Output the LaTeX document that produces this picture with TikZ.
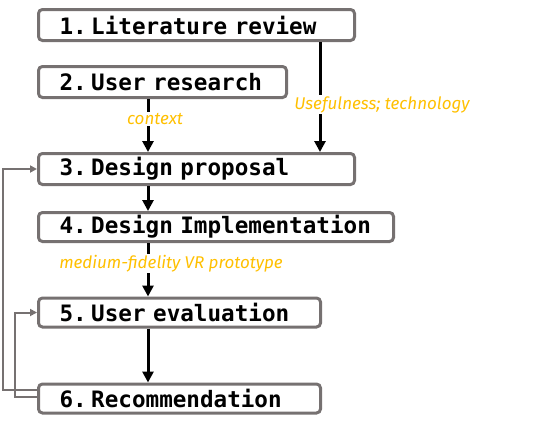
\documentclass[tikz,border=0pt]{standalone}
\usepackage{fontspec}
\usepackage{xcolor}
\usetikzlibrary{arrows.meta}
\newfontfamily\boxfont{DejaVu Sans Mono}
\newfontfamily\notefont{Fira Sans}
\definecolor{framegray}{HTML}{767171}
\definecolor{notegold}{HTML}{FFC000}

\begin{document}
\begin{tikzpicture}[x=1pt, y=-1pt,
    stepbox/.style={draw=framegray, line width=3pt, rounded corners=4pt,
        inner xsep=21pt, inner ysep=0pt, anchor=west, align=left,
        font=\boxfont\bfseries\fontsize{22.6}{22.6}\selectfont},
    flow/.style={black, line width=3pt, -{Triangle[width=11pt,length=11pt]}},
    loop/.style={framegray, line width=2pt, -{Triangle[width=7pt,length=7pt]}},
    note/.style={fill=white, inner sep=1pt, text=notegold,
        font=\notefont\itshape\fontsize{17}{17}\selectfont}]
    \useasboundingbox (0,0) rectangle (557,431);

    \coordinate (spine) at (148,0);
    \coordinate (side) at (320,0);

    \node[stepbox, minimum width=316pt, minimum height=31pt, text width=274pt] (lit) at (37,25) {1.\kern-3pt\ Literature review};
    \node[stepbox, minimum width=248pt, minimum height=31pt, text width=206pt] (user) at (37,82) {2.\kern-3pt\ User research};
    \node[stepbox, minimum width=316pt, minimum height=31pt, text width=274pt] (design) at (37,169) {3.\kern-3pt\ Design proposal};
    \node[stepbox, minimum width=355pt, minimum height=29pt, text width=313pt] (impl) at (37,227) {4.\kern-3pt\ Design Implementation};
    \node[stepbox, minimum width=282pt, minimum height=29pt, text width=240pt] (eval) at (37,312.5) {5.\kern-3pt\ User evaluation};
    \node[stepbox, minimum width=282pt, minimum height=29pt, text width=240pt] (recom) at (37,398.5) {6.\kern-3pt\ Recommendation};

    \draw[flow] (user.south -| spine) -- (design.north -| spine)
        node[note, pos=0.38, xshift=7pt] {context};
    \draw[flow] (lit.south -| side) -- (design.north -| side)
        node[note, pos=0.57, xshift=62pt] {Usefulness; technology};
    \draw[flow] (design.south -| spine) -- (impl.north -| spine);
    \draw[flow] (impl.south -| spine) -- (eval.north -| spine)
        node[note, pos=0.39, xshift=23pt] {medium-fidelity VR prototype};
    \draw[flow] (eval.south -| spine) -- (recom.north -| spine);

    % feedback loops
    \draw[loop] ([yshift=8.5pt]recom.west) -- ++(-34,0) |- (design.west);
    \draw[loop] ([yshift=1.5pt]recom.west) -- ++(-22,0) |- (eval.west);
\end{tikzpicture}
\end{document}
